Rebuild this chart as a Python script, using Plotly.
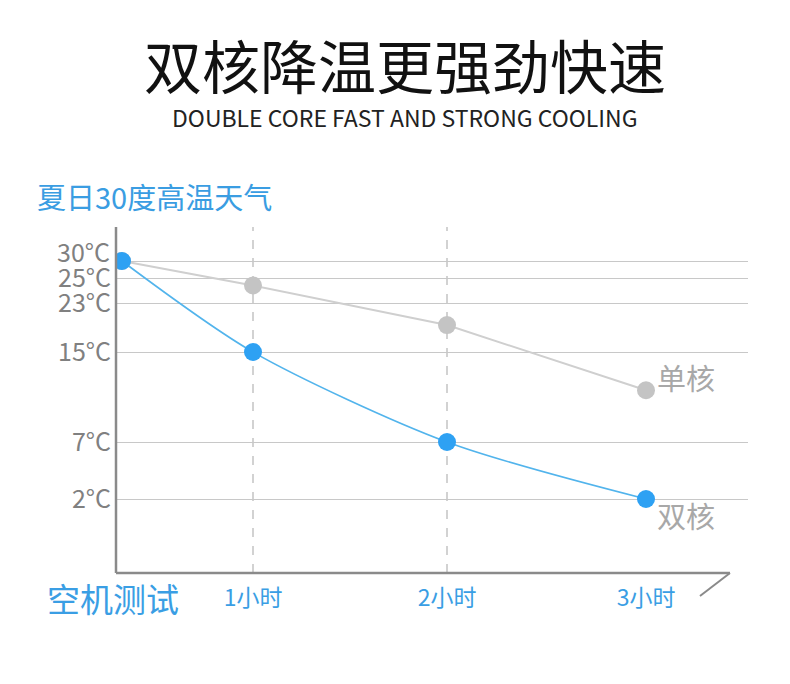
import numpy as np
import plotly.graph_objects as go

# data
hours = [0, 1, 2, 3]
hour_labels = ["1小时", "2小时", "3小时"]
single_core = [30, 24.4, 19.4, 11.6]   # 单核
double_core = [30, 15, 7, 2]           # 双核
temp_ticks = [30, 25, 23, 15, 7, 2]
temp_labels = ["30°C", "25°C", "23°C", "15°C", "7°C", "2°C"]

# the picture uses uneven scales, so both axes go through a piecewise mapping
# (units = px from the plot origin)
x_anchor_h = [0, 1, 2, 3]
x_anchor_px = [6, 137, 331, 530]
y_anchor_t = [2, 7, 15, 23, 25, 30]
y_anchor_px = [74, 131, 221, 270, 295, 312]


def xmap(v):
    return np.interp(v, x_anchor_h, x_anchor_px)


def ymap(v):
    return np.interp(v, y_anchor_t, y_anchor_px)


FONT = "Noto Sans CJK SC"
BLUE = "#2ea1f3"
GRAY = "#c4c4c4"
W, H = 790, 684
# page has an 8px body margin, so the plot box is shifted back by 8px
L, R, T, B = 108, 50, 219, 119
PW, PH = W - L - R, H - T - B


# positions given in reference-picture pixels -> paper coords
def px_x(p):
    return (p - 8 - L) / PW


def px_y(p):
    return (H - B - (p - 8)) / PH


fig = go.Figure()

fig.add_trace(go.Scatter(
    x=xmap(hours), y=ymap(single_core), mode="lines+markers",
    line=dict(color="#cfcfcf", width=2),
    marker=dict(color=GRAY, size=18),
    hoverinfo="skip", showlegend=False
))
fig.add_trace(go.Scatter(
    x=xmap(hours), y=ymap(double_core), mode="lines+markers",
    line=dict(color="#52b4ec", width=1.6, shape="spline", smoothing=0.8),
    marker=dict(color=BLUE, size=18),
    hoverinfo="skip", showlegend=False
))

# dashed guides at 1h and 2h
for h in hours[1:3]:
    fig.add_shape(type="line", xref="x", yref="paper",
                  x0=xmap(h), x1=xmap(h), y0=0, y1=1,
                  line=dict(color="#c4c4c4", width=1.5, dash="dash"), layer="below")

# axis lines and the little slash at the end of the x axis
axis_line = dict(color="#8a8a8a", width=2.5)
fig.add_shape(type="line", xref="paper", yref="paper", x0=0, x1=0, y0=0, y1=1, line=axis_line)
fig.add_shape(type="line", xref="paper", yref="paper", x0=0, x1=px_x(730), y0=0, y1=0, line=axis_line)
fig.add_shape(type="line", xref="paper", yref="paper",
              x0=px_x(730), x1=px_x(700), y0=0, y1=px_y(596), line=dict(color="#8a8a8a", width=2))

# texts
fig.add_annotation(text="双核降温更强劲快速", xref="paper", yref="paper",
                   x=px_x(405), y=px_y(64), xanchor="center", yanchor="middle", showarrow=False,
                   font=dict(family=FONT, size=58, color="#111111"))
fig.add_annotation(text="DOUBLE CORE FAST AND STRONG COOLING", xref="paper", yref="paper",
                   x=px_x(405), y=px_y(117), xanchor="center", yanchor="middle", showarrow=False,
                   font=dict(family=FONT, size=23, color="#222222"))
fig.add_annotation(text="夏日30度高温天气", xref="paper", yref="paper",
                   x=px_x(35), y=px_y(196), xanchor="left", yanchor="middle", showarrow=False,
                   font=dict(family=FONT, size=29, color="#3a9de2"))
fig.add_annotation(text="空机测试", xref="paper", yref="paper",
                   x=px_x(45), y=px_y(598), xanchor="left", yanchor="middle", showarrow=False,
                   font=dict(family=FONT, size=33, color="#3a9ee4"))
fig.add_annotation(text="单核", x=xmap(hours[-1]), y=ymap(single_core[-1]),
                   xanchor="left", yanchor="middle", xshift=9, yshift=13, showarrow=False,
                   font=dict(family=FONT, size=29, color="#a8a8a8"))
fig.add_annotation(text="双核", x=xmap(hours[-1]), y=ymap(double_core[-1]),
                   xanchor="left", yanchor="middle", xshift=9, yshift=-16, showarrow=False,
                   font=dict(family=FONT, size=29, color="#a8a8a8"))

# top tick label sits a little above its gridline in the picture
tick_font = dict(family=FONT, size=25, color="#808080")
fig.add_annotation(text=temp_labels[0], xref="paper", yref="y",
                   x=0, y=ymap(temp_ticks[0]), xanchor="right", yanchor="middle",
                   xshift=-4, yshift=10, showarrow=False, font=tick_font)

fig.update_layout(
    width=W, height=H,
    margin=dict(l=L, r=R, t=T, b=B),
    paper_bgcolor="white", plot_bgcolor="white",
    xaxis=dict(range=[0, PW], showgrid=False, zeroline=False, showline=False,
               tickmode="array", tickvals=xmap(hours[1:]), ticktext=hour_labels,
               ticks="outside", ticklen=4, tickcolor="rgba(0,0,0,0)",
               tickfont=dict(family=FONT, size=23, color="#3a9ee4")),
    yaxis=dict(range=[0, PH], showgrid=True, gridcolor="#c8c8c8", gridwidth=1.2,
               zeroline=False, showline=False,
               tickmode="array", tickvals=ymap(temp_ticks), ticktext=[""] + temp_labels[1:],
               ticks="", ticklabelstandoff=4, tickfont=tick_font),
)

fig.write_html("out.html")
